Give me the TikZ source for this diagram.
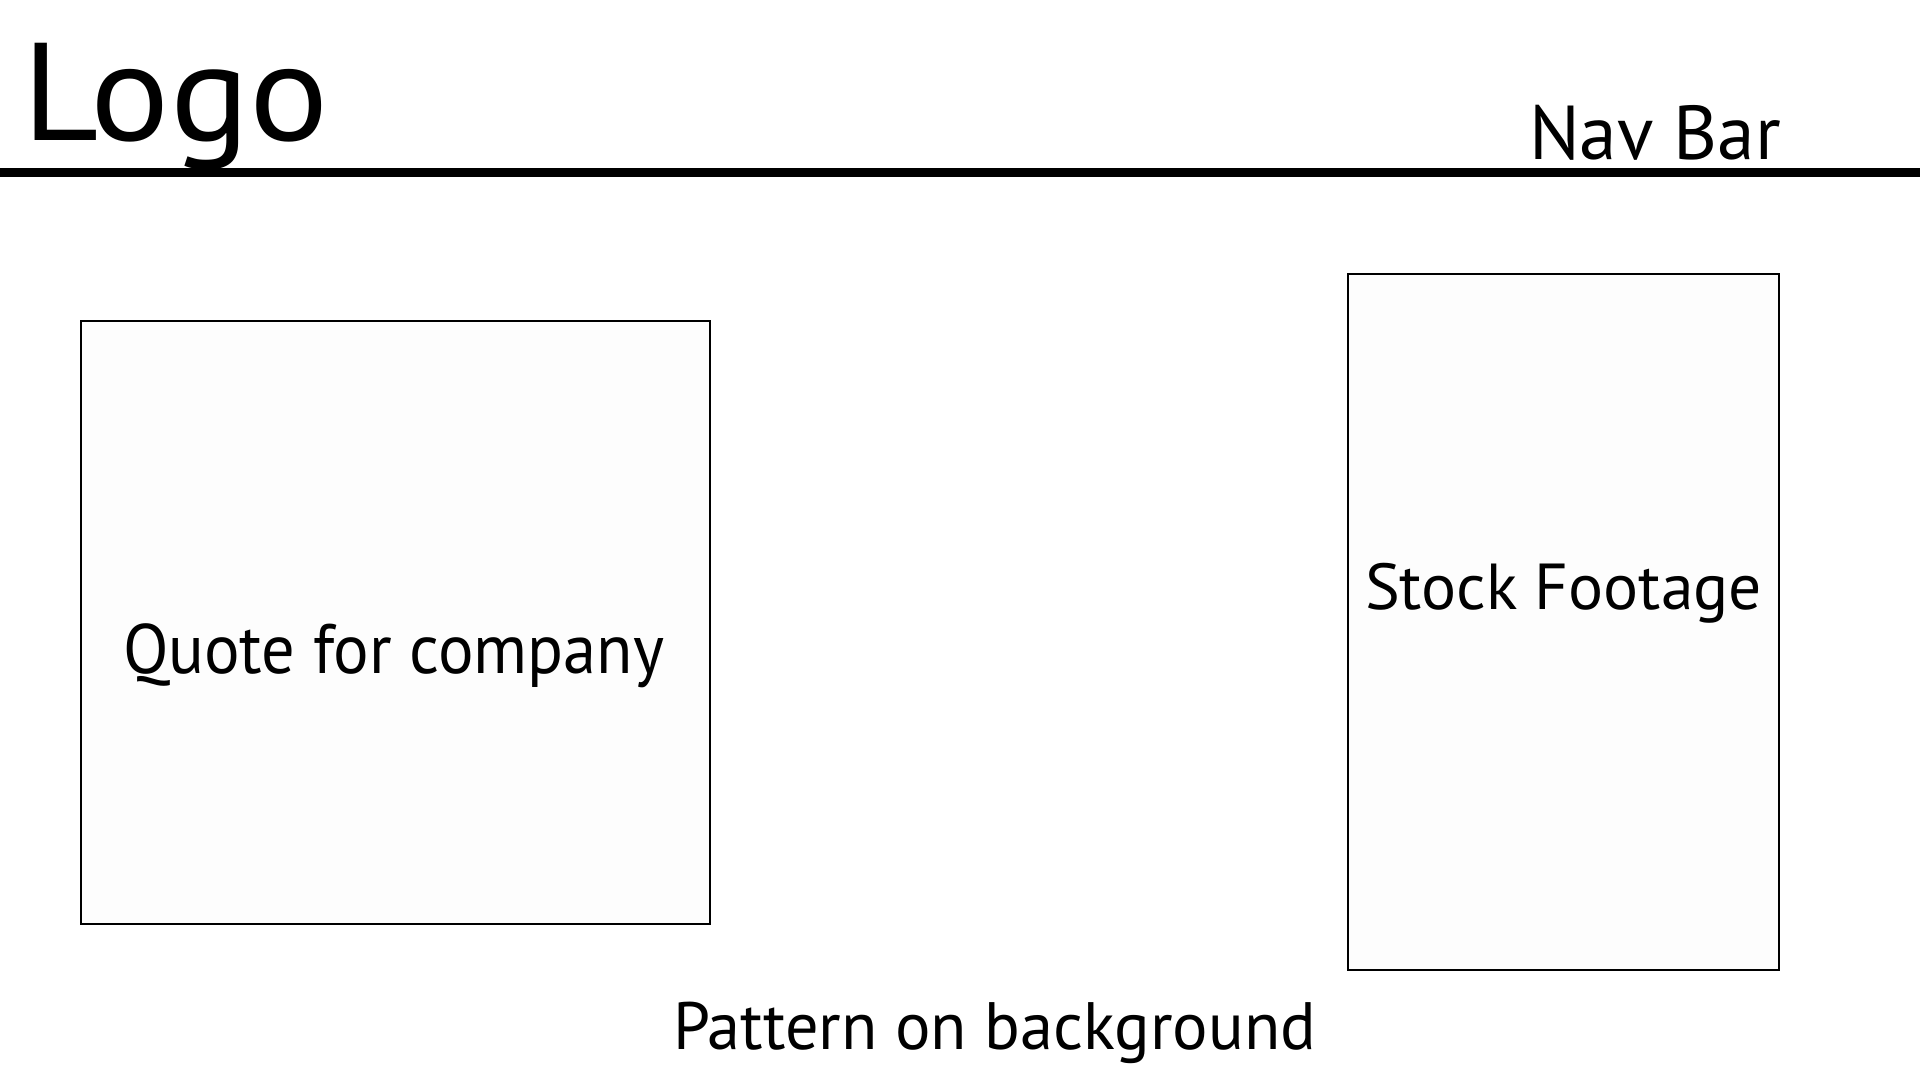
\documentclass[tikz,border=0pt]{standalone}
\usepackage{fontspec}
\usepackage{graphicx}
\setmainfont{PT Sans}
\definecolor{panelfill}{HTML}{FDFDFD}
% text of a given font size, stretched horizontally to a given width
\newcommand\wideto[3]{\resizebox{#1}{\height}{\fontsize{#2}{#2}\selectfont #3}}
\begin{document}
\begin{tikzpicture}[x=0.5pt,y=-0.5pt,
  panel/.style={draw=black,line width=0.65pt,fill=panelfill,inner sep=0pt},
  label/.style={anchor=base west,inner sep=0pt,outer sep=0pt,text=black}]
  \fill[white] (0,0) rectangle (1920,1080);
  \useasboundingbox (0,0) rectangle (1920,1080);

  % header
  \node[label] (logo) at (23,141) {\wideto{153pt}{69.5pt}{Logo}};
  \node[label] (nav) at (1529,160) {\wideto{126pt}{38.2pt}{Nav Bar}};
  \coordinate (ruleL) at (0,172.5);
  \coordinate (ruleR) at (1920,172.5);
  \draw[line width=4.2pt] (ruleL) -- (ruleR);

  % content panels
  \node[panel,minimum width=314.5pt,minimum height=301.5pt] (quotebox) at (395.5,622.5) {};
  \node[panel,minimum width=215.5pt,minimum height=348pt] (stockbox) at (1563.5,622) {};

  \node[label] (quote) at (123,673) {\wideto{270.5pt}{35pt}{Quote for company}};
  \node[label] (stock) at (1365,609) {\wideto{198.5pt}{32.5pt}{Stock Footage}};

  % footer note
  \node[label] (pattern) at (673,1049) {\wideto{321.5pt}{33.5pt}{Pattern on background}};
\end{tikzpicture}
\end{document}
